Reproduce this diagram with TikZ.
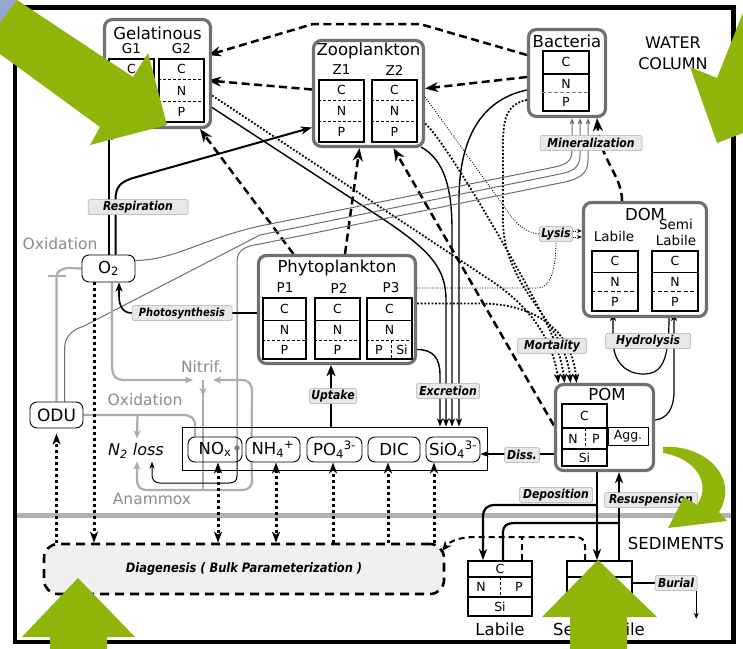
\documentclass[tikz,border=0pt]{standalone}
\usepackage{fontspec}
\setmainfont{DejaVu Sans}
\newfontfamily\condfont[FakeStretch=0.88]{DejaVu Sans}
\usetikzlibrary{arrows.meta,calc}
\pgfdeclarelayer{bg}
\pgfdeclarelayer{conn}
\pgfdeclarelayer{front}
\pgfsetlayers{bg,conn,main,front}
\definecolor{boxgray}{RGB}{112,112,112}
\definecolor{lblfill}{RGB}{232,232,232}
\definecolor{lightgr}{RGB}{172,172,172}
\definecolor{txtgr}{RGB}{140,140,140}
\definecolor{mingray}{RGB}{110,110,110}
\definecolor{sepgray}{RGB}{178,178,178}
\definecolor{diagfill}{RGB}{240,240,240}
\definecolor{grn}{RGB}{144,181,10}
\definecolor{blu}{RGB}{150,165,205}
\newcommand\ftitle{\fontsize{16.5}{18}\selectfont}
\newcommand\fsubl{\fontsize{13.5}{16}\selectfont}
\newcommand\fcell{\fontsize{12.5}{14}\selectfont}
\newcommand\flbl{\condfont\fontsize{12.3}{13}\selectfont\bfseries\itshape}
\newcommand\fgray{\fontsize{15.5}{17}\selectfont}
\newcommand\fdiag{\condfont\fontsize{13}{14}\selectfont\bfseries\itshape}
\newcommand\fwater{\fontsize{16}{21}\selectfont}
\newcommand\cnp[5]{%
 \pgfmathsetmacro\cnpA{#4/2}%
 \pgfmathsetmacro\cnpB{(#4+#5)/2}%
 \pgfmathsetmacro\cnpC{(#5+1)/2}%
 \draw[#2] ($(#1.north west)!#4!(#1.south west)$) -- ($(#1.north east)!#4!(#1.south east)$);
 \draw[#3] ($(#1.north west)!#5!(#1.south west)$) -- ($(#1.north east)!#5!(#1.south east)$);
 \node[ctx] at ($(#1.north)!\cnpA!(#1.south)$) {C};
 \node[ctx] at ($(#1.north)!\cnpB!(#1.south)$) {N};
 \node[ctx] at ($(#1.north)!\cnpC!(#1.south)$) {P};
}
\tikzset{
 obox/.style={draw=boxgray, line width=3.2pt, rounded corners=8pt, inner sep=0pt, fill=white},
 cbox/.style={draw=black, line width=1.8pt, inner sep=0pt, fill=white},
 sepd/.style={line width=0.7pt, dash pattern=on 3pt off 2pt},
 sepdk/.style={line width=1.1pt, dash pattern=on 4pt off 2.5pt},
 seps/.style={line width=1.5pt},
 sepg/.style={line width=1.1pt, gray, dash pattern=on 4pt off 2pt},
 lbl/.style={fill=lblfill, draw=gray!65, line width=0.5pt, rounded corners=1.5pt, inner sep=0.8pt, minimum height=15pt, font=\flbl},
 nut/.style={draw=black, line width=0.9pt, rounded corners=7pt, inner sep=0pt, font=\ftitle},
 ttl/.style={font=\ftitle, inner sep=0pt},
 subl/.style={font=\fsubl, inner sep=0pt},
 ctx/.style={font=\fcell, inner sep=0pt},
 gtxt/.style={font=\fgray, text=txtgr, inner sep=0pt},
 pred/.style={line width=2.5pt, dash pattern=on 8pt off 4.5pt, -{Stealth[length=13pt,width=10pt,inset=4pt]}},
 resp/.style={line width=2pt, -{Stealth[length=11pt,width=8pt,inset=3pt]}},
 exc/.style={line width=1.4pt, -{Stealth[length=8pt,width=6pt,inset=2pt]}},
 mort/.style={line width=1.8pt, dash pattern=on 1.8pt off 1.8pt, -{Stealth[length=9pt,width=7pt,inset=2.5pt]}},
 lys/.style={line width=0.8pt, dash pattern=on 1pt off 1.5pt},
 mineral/.style={line width=1pt, mingray, -{Stealth[length=6pt,width=4.5pt,inset=1.5pt]}},
 nitr/.style={line width=2.2pt, lightgr},
 nitrarr/.style={nitr, -{Stealth[length=8pt,width=7pt,inset=2pt]}},
 dotx/.style={line width=3pt, dash pattern=on 3pt off 3pt},
 dtip/.style={-{Stealth[length=11pt,width=8pt,inset=3pt]}},
 dtips/.style={{Stealth[length=11pt,width=8pt,inset=3pt]}-{Stealth[length=11pt,width=8pt,inset=3pt]}},
 sedarr/.style={line width=2.2pt, -{Stealth[length=11pt,width=8pt,inset=3pt]}},
 seddash/.style={line width=2pt, dash pattern=on 6pt off 4pt},
 thinarr/.style={line width=1.2pt, -{Stealth[length=8pt,width=6pt,inset=2pt]}},
}
\begin{document}
\begin{tikzpicture}[x=1pt,y=-1pt]
\useasboundingbox (0,0) rectangle (743,648);
\clip (0,0) rectangle (743,648);

\begin{pgfonlayer}{bg}
\fill[white] (0,0) rectangle (743,648);
\draw[line width=4.5pt] (15,7.5) rectangle (733.5,642);
\draw[line width=5pt, sepgray] (17,515) -- (731,515);
\end{pgfonlayer}

% ---------------- Gelatinous
\node[obox, minimum width=106pt, minimum height=108pt] (gel) at (157.5,73.5) {};
\node[ttl] at (157.5,33) {Gelatinous};
\node[subl] at (131.5,49) {G1};
\node[subl] at (181.5,49) {G2};
\node[cbox, minimum width=45pt, minimum height=63pt] (g1) at (131.5,90.5) {};
\node[cbox, minimum width=45pt, minimum height=63pt] (g2) at (181.5,90.5) {};
\cnp{g1}{sepd}{sepd}{0.3333}{0.6667}
\cnp{g2}{sepd}{sepd}{0.3333}{0.6667}

% ---------------- Zooplankton
\node[obox, minimum width=110pt, minimum height=106pt] (zoo) at (368.5,93.5) {};
\node[ttl] at (368.5,51) {Zooplankton};
\node[subl] at (341.5,70) {Z1};
\node[subl] at (394.5,70) {Z2};
\node[cbox, minimum width=45pt, minimum height=62pt] (z1) at (341.5,111) {};
\node[cbox, minimum width=45pt, minimum height=62pt] (z2) at (394.5,111) {};
\cnp{z1}{sepd}{sepd}{0.3333}{0.6667}
\cnp{z2}{sepd}{sepd}{0.3333}{0.6667}

% ---------------- Bacteria
\node[obox, minimum width=77pt, minimum height=87pt] (bact) at (567,73) {};
\node[ttl] at (567,41) {Bacteria};
\node[cbox, minimum width=46pt, minimum height=60pt] (bc) at (566,81) {};
\cnp{bc}{seps}{sepg}{0.39}{0.69}

% ---------------- DOM
\node[obox, minimum width=123pt, minimum height=114pt] (dom) at (645,259.5) {};
\node[ttl] at (645,214) {DOM};
\node[subl] at (614,236) {Labile};
\node[subl, align=center] at (676,232) {Semi\\Labile};
\node[cbox, minimum width=46pt, minimum height=60pt] (doml) at (615,281) {};
\node[cbox, minimum width=46pt, minimum height=60pt] (doms) at (675,281) {};
\cnp{doml}{seps}{sepdk}{0.36}{0.67}
\cnp{doms}{seps}{sepdk}{0.36}{0.67}

% ---------------- Phytoplankton
\node[obox, minimum width=157pt, minimum height=108pt] (phyto) at (337,309.5) {};
\node[ttl] at (337,268) {Phytoplankton};
\node[subl] at (285,288) {P1};
\node[subl] at (339,288) {P2};
\node[subl] at (391,288) {P3};
\node[cbox, minimum width=43pt, minimum height=61pt] (p1) at (284.5,328.5) {};
\node[cbox, minimum width=45pt, minimum height=61pt] (p2) at (337.5,328.5) {};
\node[cbox, minimum width=45pt, minimum height=61pt] (p3) at (389.5,328.5) {};
\cnp{p1}{seps}{sepd}{0.37}{0.69}
\cnp{p2}{seps}{sepd}{0.37}{0.69}
\draw[seps] ($(p3.north west)!0.37!(p3.south west)$) -- ($(p3.north east)!0.37!(p3.south east)$);
\draw[sepd] ($(p3.north west)!0.69!(p3.south west)$) -- ($(p3.north east)!0.69!(p3.south east)$);
\draw[sepd] (391,340) -- (391,359);
\node[ctx] at ($(p3.north)!0.185!(p3.south)$) {C};
\node[ctx] at ($(p3.north)!0.53!(p3.south)$) {N};
\node[ctx] at (379,350) {P};
\node[ctx] at (402,350) {Si};

% ---------------- POM
\node[obox, minimum width=98pt, minimum height=86pt] (pom) at (604.5,427.5) {};
\node[ttl] at (607,394) {POM};
\node[cbox, minimum width=45pt, minimum height=62pt] (pc) at (584.5,435) {};
\draw[seps] (562,428) -- (607,428);
\draw[seps] (562,449) -- (607,449);
\draw[sepd] (585,428) -- (585,449);
\node[ctx] at (584.5,416) {C};
\node[ctx] at (573,439) {N};
\node[ctx] at (596,439) {P};
\node[ctx] at (584.5,458) {Si};
\node[draw, line width=0.9pt, minimum width=40pt, minimum height=18pt, inner sep=0pt, font=\fcell] (agg) at (628,436) {Agg.};

% ---------------- nutrients
\node[draw, line width=0.9pt, minimum width=305pt, minimum height=43pt, inner sep=0pt] (nutbox) at (334.5,448.5) {};
\node[nut, minimum width=54pt, minimum height=25pt] (nox) at (215,449.5) {NO\textsubscript{x}};
\node[nut, minimum width=54pt, minimum height=25pt] (nh4) at (273,449.5) {NH\textsubscript{4}\textsuperscript{+}};
\node[nut, minimum width=55pt, minimum height=25pt] (po4) at (334.5,449.5) {PO\textsubscript{4}\textsuperscript{3-}};
\node[nut, minimum width=52pt, minimum height=25pt] (dic) at (394,449.5) {DIC};
\node[nut, minimum width=54pt, minimum height=25pt] (sio4) at (453,449.5) {SiO\textsubscript{4}\textsuperscript{3-}};
\coordinate (dot) at (237,448);

\node[nut, minimum width=53pt, minimum height=26pt, font=\fontsize{17}{18}\selectfont] (odu) at (56.5,415) {ODU};
\node[nut, minimum width=53pt, minimum height=27pt] (o2) at (108.5,268.5) {O\textsubscript{2}};
\node[font=\fontsize{16}{18}\selectfont\itshape, inner sep=0pt] (n2) at (136,451) {N\textsubscript{2} loss};

% ---------------- diagenesis
\node[draw, line width=2.6pt, dash pattern=on 9pt off 6pt, fill=diagfill, rounded corners=14pt, minimum width=400pt, minimum height=50pt, inner sep=0pt, font=\fdiag] (diag) at (244,569) {Diagenesis ( Bulk Parameterization )};

% ---------------- sediments
\node[cbox, minimum width=64pt, minimum height=55pt] (sedl) at (500,588.5) {};
\draw[seps] (468,577) -- (532,577);
\draw[seps] (468,597) -- (532,597);
\draw[sepd] (500,577) -- (500,597);
\node[ctx] at (500,568.5) {C};
\node[ctx] at (481,587) {N};
\node[ctx] at (519,587) {P};
\node[ctx] at (500,607) {Si};
\node[cbox, minimum width=65pt, minimum height=55pt] (seds) at (599.5,588.5) {};
\draw[seps] (567,577) -- (632,577);
\draw[seps] (567,597) -- (632,597);
\draw[sepd] (599.5,577) -- (599.5,597);
\node[ctx] at (599.5,568.5) {C};
\node[ctx] at (581,587) {N};
\node[ctx] at (618,587) {P};
\node[ctx] at (599.5,607) {Si};
\node[ttl] at (500,629) {Labile};
\node[ttl] at (599,629) {Semi-labile};

% ---------------- texts
\node[font=\fwater, align=center, inner sep=0pt] at (673,53) {WATER\\COLUMN};
\node[ttl] at (676,543) {SEDIMENTS};
\node[gtxt] at (60,244) {Oxidation};
\node[gtxt] at (145,400) {Oxidation};
\node[gtxt] at (202,367) {Nitrif.};
\node[gtxt] at (152,499) {Anammox};

% ---------------- process labels
\node[lbl, minimum width=100pt] (resp) at (138,207) {Respiration};
\node[lbl, minimum width=100pt, font=\condfont\fontsize{11.3}{13}\selectfont\bfseries\itshape] (photo) at (182,313) {Photosynthesis};
\node[lbl, minimum width=47pt] (upt) at (333,396) {Uptake};
\node[lbl, minimum width=63pt] (excr) at (448,391) {Excretion};
\node[lbl, minimum width=102pt] (minz) at (591,143) {Mineralization};
\node[lbl, minimum width=33pt] (lysis) at (556,234) {Lysis};
\node[lbl, minimum width=69pt] (mortl) at (552,346) {Mortality};
\node[lbl, minimum width=85pt] (hydro) at (648,341) {Hydrolysis};
\node[lbl, minimum width=35pt] (diss) at (522,455) {Diss.};
\node[lbl, minimum width=73pt] (depo) at (556,495) {Deposition};
\node[lbl, minimum width=93pt] (resus) at (651,500) {Resuspension};
\node[lbl, minimum width=42pt] (burial) at (676,583) {Burial};
\fill[gray] (dot) circle (2.8pt);

% ================= connectors
\begin{pgfonlayer}{conn}
% predation
\draw[pred] ($(bact.west)+(0,-18)$) -- (420,24) -- (313,24) -- ($(g2.north east)+(3,-3)$);
\draw[pred] ($(bact.west)+(0,4)$) -- ($(zoo.east)+(0,-5)$);
\draw[pred] ($(zoo.west)+(0,-4)$) -- ($(g2.east)+(3,-10)$);
\draw[pred] ($(phyto.north west)+(36.5,0)$) -- ($(gel.south)+(42.5,0)$);
\draw[pred] ($(phyto.north)+(8,0)$) -- ($(zoo.south)+(-9,0)$);
\draw[pred] ($(pom.west)+(0,-2)$) -- ($(zoo.south)+(25,0)$);
\draw[pred] ($(dom.north)+(-23,0)$) .. controls (622,175) and (600,160) .. ($(bact.south)+(30,0)$);
% respiration
\draw[resp] (o2.north) -- (o2.north |- gel.south);
\draw[resp] ($(o2.north)+(7,0)$) -- (115.5,200) .. controls (115.5,186) and (121,182) .. (133,178) -- ($(zoo.west)+(0,34)$);
% excretion
\draw[exc] ($(gel.east)+(0,34)$) -- (380,217) .. controls (430,250) and (446,268) .. (446,300) -- ($(nutbox.north)+(111.5,0)$);
\draw[exc] ($(zoo.south east)+(-4,-1)$) .. controls (445,160) and (452,190) .. (452,230) -- ($(nutbox.north)+(117.5,0)$);
\draw[exc] ($(bact.west)+(0,17)$) .. controls (480,100) and (459,140) .. (459,200) -- ($(nutbox.north)+(124.5,0)$);
\draw[exc] ($(phyto.east)+(0,40)$) .. controls (433,349.5) and (440,358) .. (440,375) -- ($(nutbox.north)+(105.5,0)$);
% mortality
\draw[mort] ($(gel.east)+(0,22)$) -- (490,280) .. controls (530,306) and (553,340) .. ($(pom.north)+(-46,0)$);
\draw[mort] ($(zoo.east)+(0,30)$) .. controls (445,140) and (520,270) .. (545,320) .. controls (555,340) and (562,360) .. ($(pom.north)+(-40,0)$);
\draw[mort] ($(bact.west)+(0,27)$) .. controls (506,104) and (503,120) .. (503,145) -- (503,220) .. controls (503,290) and (565,320) .. ($(pom.north)+(-34,0)$);
\draw[mort] ($(phyto.east)+(0,-6)$) -- (480,303.5) .. controls (535,303.5) and (572,330) .. ($(pom.north)+(-28,0)$);
% lysis
\draw[lys] ($(zoo.east)+(0,3.5)$) -- (508,212) .. controls (516,224) and (526,233) .. (lysis.west);
\draw[lys] ($(phyto.east)+(0,-21.5)$) -- (538,288) .. controls (550,288) and (556,270) .. (lysis.south);
\draw[lys, -{Stealth[length=5pt,width=4pt]}] ($(lysis.east)+(0,-3)$) -- ($(dom.west)+(0,-28.5)$);
\draw[lys, -{Stealth[length=5pt,width=4pt]}] ($(lysis.east)+(0,3)$) -- ($(dom.west)+(0,-22.5)$);
% mineralization
\draw[mineral] ($(o2.east)+(0,-8)$) .. controls (175,260) and (205,238) .. (260,226) -- (555,167) .. controls (568,164) and (572,160) .. (572,150) -- ($(bact.south)+(5,0)$);
\draw[mineral] ($(odu.north)+(8,0)$) -- (64.5,350) .. controls (64.5,336) and (72,330) .. (84,326) -- (260,235) -- (560,174) .. controls (575,171) and (580,166) .. (580,155) -- ($(bact.south)+(13,0)$);
\draw[mineral] (dot) -- (237,262) .. controls (237,250) and (245,246) .. (260,244) -- (565,182) .. controls (582,178) and (588,172) .. (588,160) -- ($(bact.south)+(21,0)$);
% photosynthesis
\draw[line width=1.2pt] ($(phyto.west)+(0,3.5)$) -- (photo.east);
\draw[line width=1.6pt, -{Stealth[length=9pt,width=7pt,inset=2.5pt]}] (photo.west) .. controls (123,313) and (119,306) .. (119,296) -- ($(o2.south)+(10.5,0)$);
% uptake
\draw[line width=2.8pt, -{Stealth[length=11pt,width=9pt,inset=3pt]}] ($(nutbox.north)+(-3.5,0)$) -- ($(phyto.south)+(-6,0)$);
% nitrification / oxidation / anammox (gray)
\draw[nitrarr] ($(o2.south)+(3.5,0)$) -- (112,365) .. controls (112,377) and (116,380) .. (126,380) -- (193,380);
\draw[nitrarr] ($(nh4.north west)+(6,0)$) -- (252,392) .. controls (252,384) and (249,380) .. (241,380) -- (213,380);
\draw[nitr] (203,380) -- (203,490);
\draw[nitrarr] (203,380) -- (203,396);
\draw[nitr] (odu.east) -- (182,415) .. controls (191,415) and (195,418) .. (195,425) -- ($(nox.north)+(-20,0)$);
\draw[nitrarr] ($(odu.east)+(54,0)$) -- ($(n2.north)+(1,-5)$);
\draw[nitrarr] ($(nh4.south west)+(6,0)$) -- (252,479) .. controls (252,487) and (249,490) .. (241,490) -- (148,490) .. controls (140,490) and (137,487) .. (137,479) -- ($(n2.south)+(1,3)$);
\draw[nitr] (odu.north) -- (56.5,277) .. controls (56.5,271) and (62,268) .. (70,268) -- (o2.west);
\draw[nitr] (48,276) -- (66,276);
% denitrification
\draw[line width=1pt, -{Stealth[length=7pt,width=5pt,inset=2pt]}] (dot) -- (237,476) .. controls (237,481) and (234,483) .. (229,483) -- (160,483) .. controls (155,483) and (152,480) .. (152,475) -- ($(n2.south)+(16,3)$);
% diagenesis exchanges
\coordinate (o2d) at ($(o2.south)+(-14.5,0)$);
\coordinate (noxd) at ($(nox.south)+(3,0)$);
\coordinate (nh4d) at ($(nh4.south)+(3,0)$);
\coordinate (po4d) at ($(po4.south)+(-1.5,0)$);
\coordinate (dicd) at ($(dic.south)+(-6,0)$);
\coordinate (siod) at ($(sio4.south)+(-19,0)$);
\draw[dotx, dtip] (odu.south |- diag.north) -- ($(odu.south)+(0,5)$);
\draw[dotx, dtip] (o2d) -- (o2d |- diag.north);
\draw[dotx, dtips] (noxd) -- (noxd |- diag.north);
\draw[dotx, dtips] (nh4d) -- (nh4d |- diag.north);
\draw[dotx, dtip] (po4d |- diag.north) -- (po4d);
\draw[dotx, dtip] (dicd |- diag.north) -- (dicd);
\draw[dotx, dtip] (siod |- diag.north) -- (siod);
% deposition / resuspension
\draw[sedarr] ($(pom.south)+(-7.5,0)$) -- ($(seds.north)+(-2.5,0)$);
\draw[sedarr] (597,505) -- (495,505) .. controls (487,505) and (483,509) .. (483,517) -- ($(sedl.north)+(-17,0)$);
\draw[sedarr] ($(seds.north)+(19.5,0)$) -- ($(pom.south)+(14.5,0)$);
\draw[line width=2.2pt] ($(sedl.north)+(3,0)$) -- (503,532) .. controls (503,526) and (507,523) .. (514,523) -- (619,523);
% sediments -> diagenesis
\draw[seddash, -{Stealth[length=10pt,width=8pt,inset=3pt]}] ($(seds.north)+(-14.5,0)$) -- (585,546) .. controls (585,540) and (582,537) .. (575,537) -- (475,537) .. controls (460,537) and (450,541) .. (442,551);
\draw[seddash] ($(sedl.north)+(22,0)$) -- (522,537);
% burial
\draw[line width=1.5pt] ($(seds.east)+(0,-5.5)$) -- (burial.west);
\draw[line width=1.2pt, -{Stealth[length=6pt,width=5pt]}] ($(burial.south east)+(-1,0)$) -- ++(0,28);
% dissolution
\draw[thinarr] ($(pc.west)+(0,19)$) -- ($(sio4.east)+(0,4.5)$);
% hydrolysis
\draw[thinarr] ($(pom.east)+(0,-7.5)$) .. controls (667,419) and (674,408) .. (674,392) -- ($(doms.south)+(-1,1)$);
\draw[thinarr] ($(doms.south)+(-6,5.5)$) .. controls (669,365) and (660,374) .. (643,374) .. controls (626,374) and (613,362) .. (613,340) -- ($(doml.south)+(-2,1)$);
\end{pgfonlayer}

% ================= overlay arrows
\begin{pgfonlayer}{front}
\fill[blu] (0,0) -- (17,0) -- (0,23) -- cycle;
\fill[grn] (17,0) -- (133,77) -- (148,53) -- (167,125) -- (90,145) -- (100,127) -- (-15,43) -- cycle;
\fill[grn] (690,67) -- (717,78) -- (748,0) -- (808,0) -- (763,102) -- (790,115) -- (717,143) -- cycle;
\fill[grn] (78,578) -- (135,637) -- (107,637) -- (107,650) -- (50,650) -- (50,637) -- (22,637) -- cycle;
\fill[grn] (598,560) -- (657,617) -- (627,617) -- (627,650) -- (570,650) -- (570,617) -- (542,617) -- cycle;
\fill[grn] (663,447) .. controls (705,444) and (740,478) .. (719,512) -- (727,521) -- (668,528) -- (684,497) -- (697,505) .. controls (712,483) and (695,458) .. (663,453) -- cycle;
\end{pgfonlayer}
\end{tikzpicture}
\end{document}
